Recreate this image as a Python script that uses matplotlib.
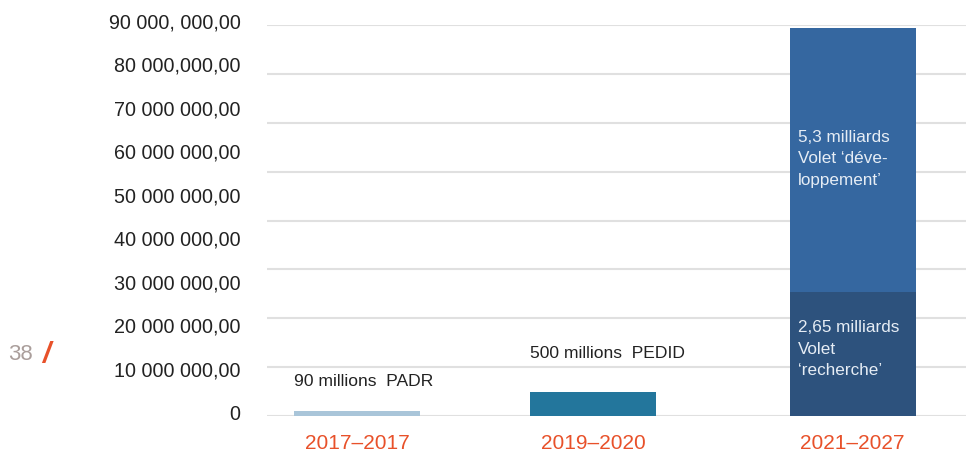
import numpy as np
import matplotlib.pyplot as plt
from matplotlib.transforms import ScaledTranslation

plt.rcParams['font.family'] = ['Liberation Sans', 'DejaVu Sans']

# données
periodes = ["2017–2017", "2019–2020", "2021–2027"]
xpos = [0, 1, 2.1]
valeurs = [1.1e6, 5.5e6, 28.5e6]          # barres simples / bas de la pile
volet_dev = [0, 0, 60.8e6]                # haut de la pile (2021-2027)
etiquettes = ["90 millions  PADR", "500 millions  PEDID", ""]
yticks = np.arange(0, 100e6, 10e6)
ytick_labels = ["0", "10 000 000,00", "20 000 000,00", "30 000 000,00",
                "40 000 000,00", "50 000 000,00", "60 000 000,00",
                "70 000 000,00", "80 000,000,00", "90 000, 000,00"]
grille = np.linspace(0, 90e6, 9)

couleurs = ["#a9c5d9", "#23769c", "#2d527d"]
orange = "#e8512a"

fig = plt.figure(figsize=(9.66, 4.52), dpi=100)
ax = fig.add_axes([267/966, 1-417/452, 699/966, (417-26)/452])

larg = 0.534
for g in grille:
    ax.axhline(g, color="#e0e0e0", lw=1.5, zorder=0)

ax.bar(xpos, valeurs, width=larg, color=couleurs, zorder=2)
ax.bar(xpos[2], volet_dev[2], bottom=valeurs[2], width=larg, color="#3567a0", zorder=2)

ax.set_xlim(-0.381, 2.58)
ax.set_ylim(0, 90e6)

for s in ax.spines.values():
    s.set_visible(False)

ax.set_yticks(yticks)
ax.set_yticklabels(ytick_labels, fontsize=14.2, color="#222222")
ax.tick_params(axis="y", length=0, pad=19)
off = ScaledTranslation(0, 5/100, fig.dpi_scale_trans)
for lab in ax.get_yticklabels():
    lab.set_transform(lab.get_transform() + off)

ax.set_xticks(xpos)
ax.set_xticklabels(periodes, fontsize=15, color=orange)
ax.tick_params(axis="x", length=0, pad=12)

# étiquettes au-dessus des barres
ax.text(xpos[0] - larg/2, 8.1e6, etiquettes[0], fontsize=12.6, color="#222222", va="center", ha="left")
ax.text(xpos[1] - larg/2, 14.6e6, etiquettes[1], fontsize=12.6, color="#222222", va="center", ha="left")

# texte dans la barre empilée
xt = xpos[2] - larg/2 + 0.035
ax.text(xt, 59.4e6, "5,3 milliards\nVolet ‘déve-\nloppement’", fontsize=12.3, color="#e6edf5",
        va="center", ha="left", linespacing=1.55)
ax.text(xt, 15.6e6, "2,65 milliards\nVolet\n‘recherche’", fontsize=12.3, color="#e6edf5",
        va="center", ha="left", linespacing=1.55)

# numéro de page
fig.text(8/966, 1-355/452, "38", fontsize=16, color="#aa9e9b", va="center", ha="left")
fig.text(42/966, 1-355/452, "/", fontsize=21, color=orange, fontweight="bold",
         style="italic", va="center", ha="left")

fig.savefig("out.png", dpi=100)
